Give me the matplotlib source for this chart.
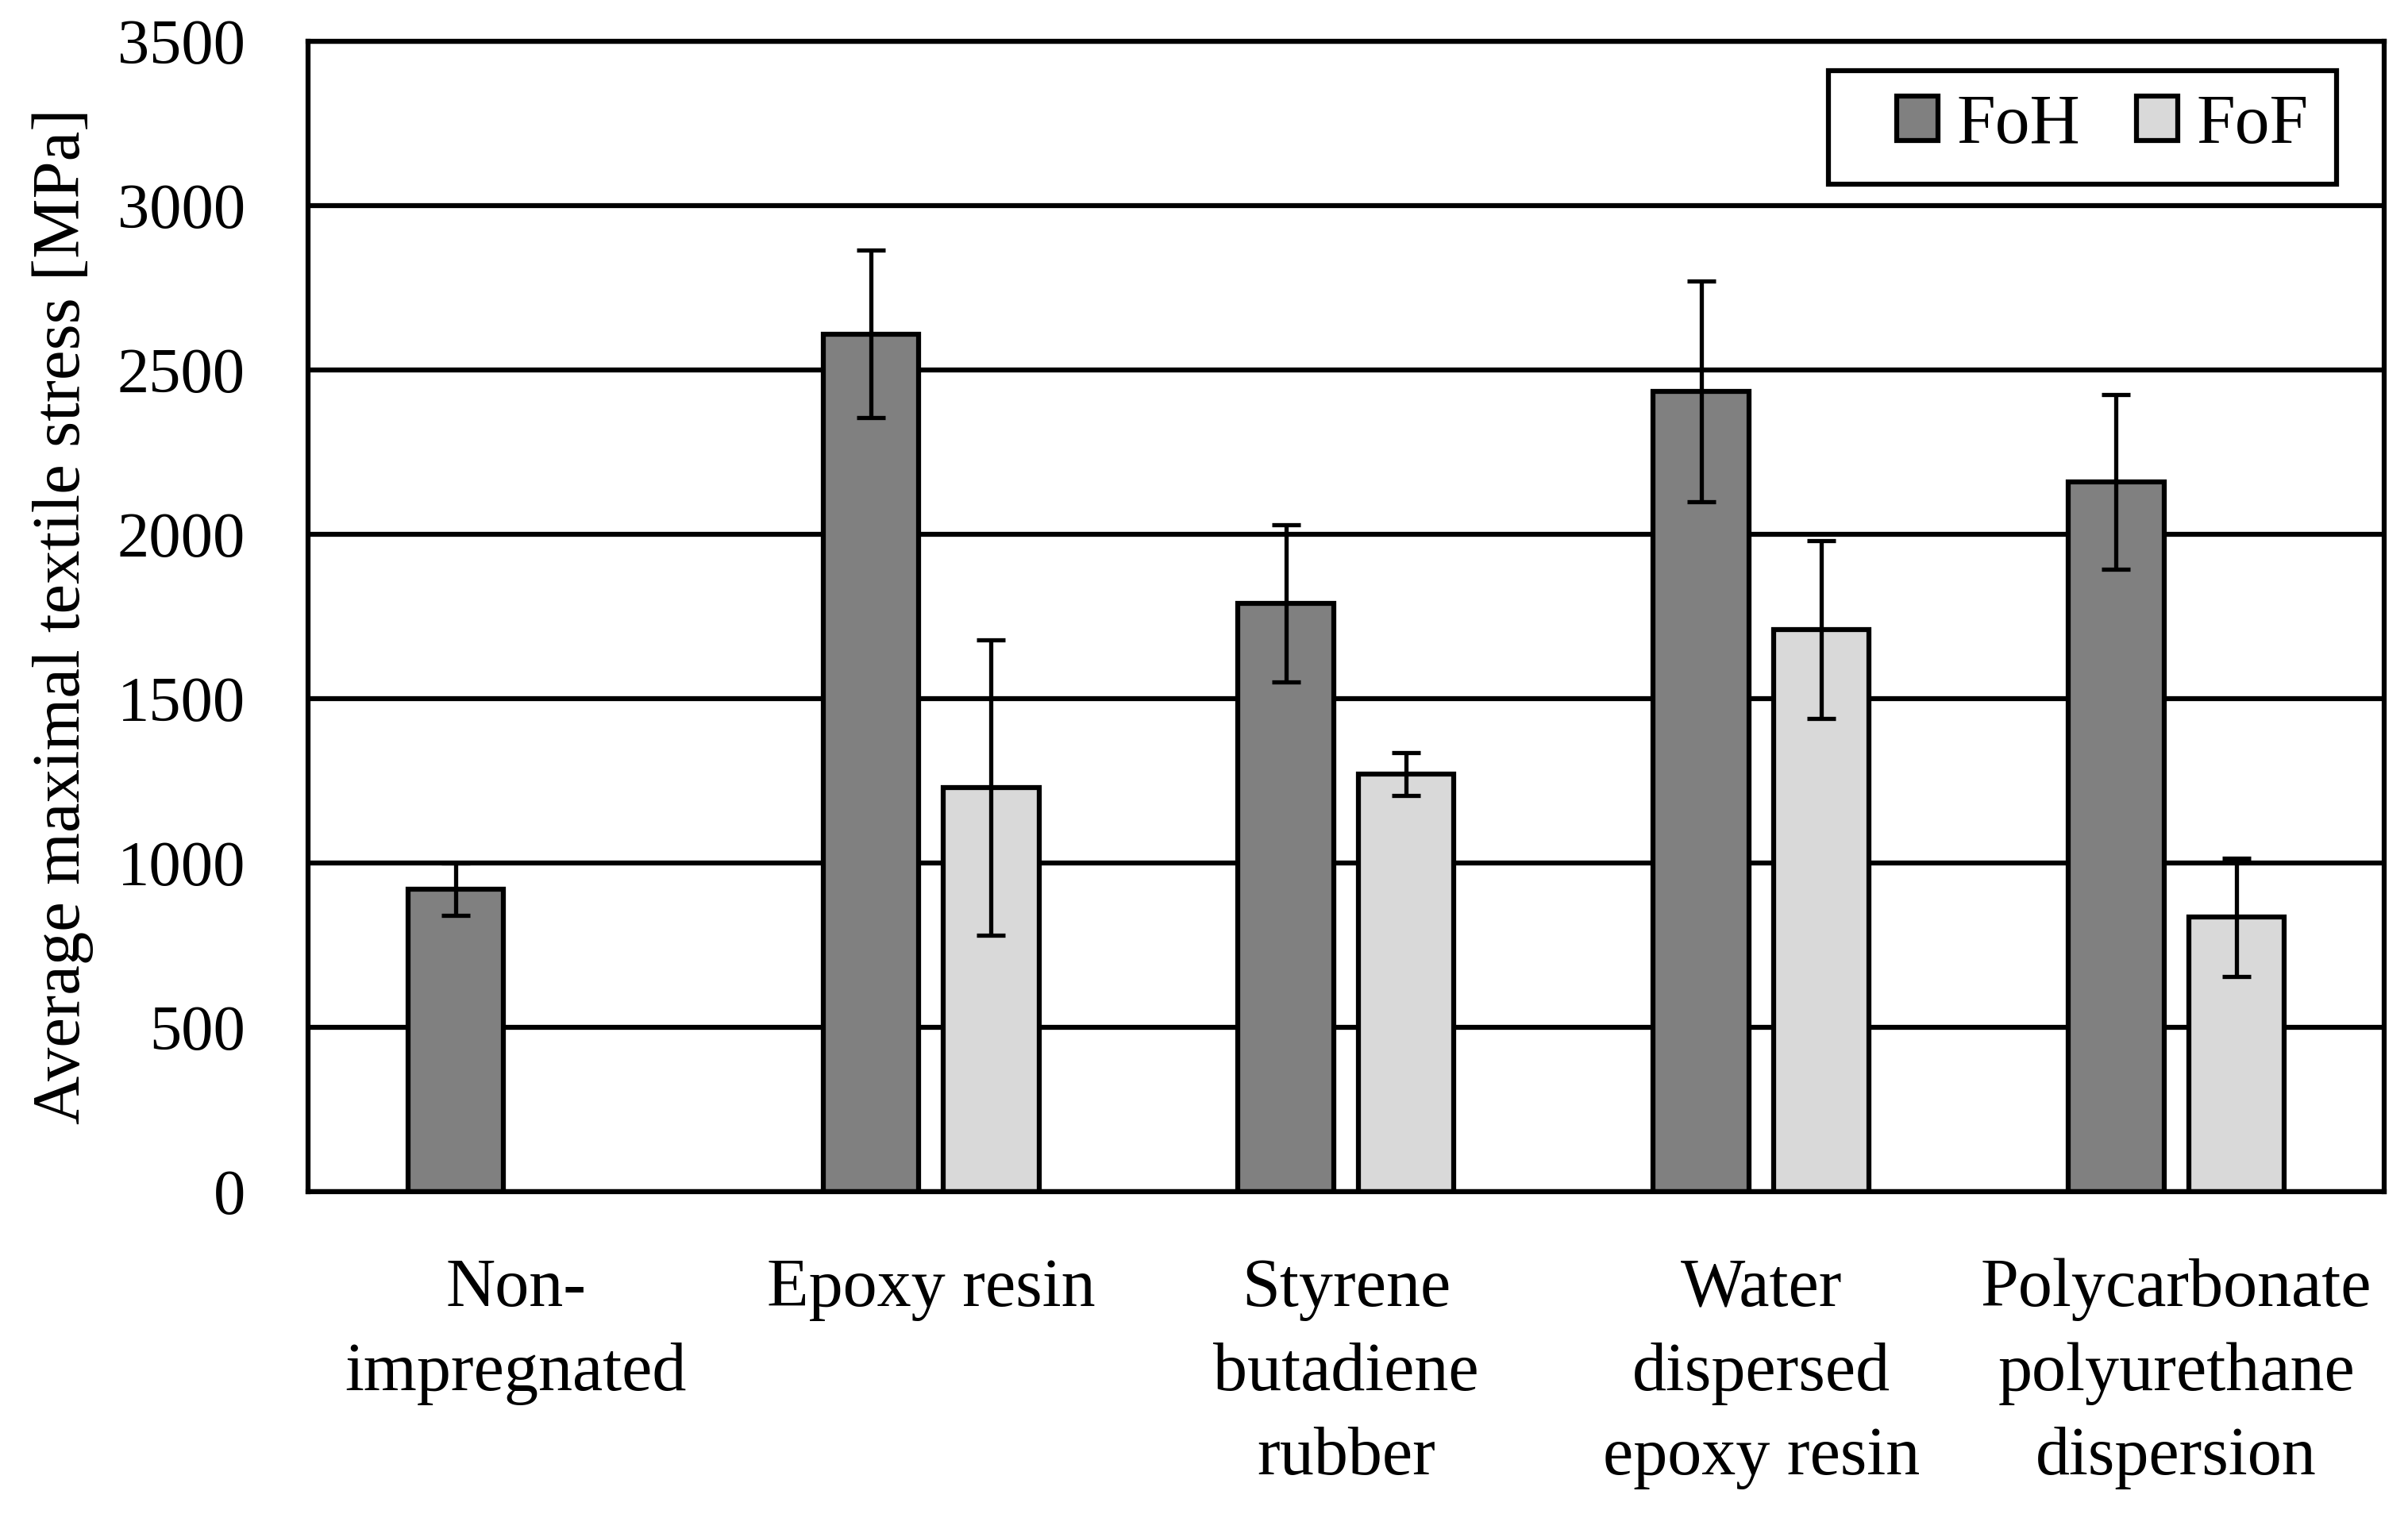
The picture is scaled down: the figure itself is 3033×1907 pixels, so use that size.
import matplotlib
matplotlib.use("Agg")
import matplotlib.pyplot as plt
from matplotlib.patches import Rectangle
import numpy as np

categories = [
    "Non-\nimpregnated",
    "Epoxy resin",
    "Styrene\nbutadiene\nrubber",
    "Water\ndispersed\nepoxy resin",
    "Polycarbonate\npolyurethane\ndispersion",
]
foh_mean = [920, 2610, 1790, 2435, 2160]
foh_err = [80, 255, 240, 335, 265]
fof_mean = [np.nan, 1230, 1270, 1710, 835]
fof_err = [np.nan, 450, 65, 270, 180]
y_ticks = [0, 500, 1000, 1500, 2000, 2500, 3000, 3500]

plt.rcParams["font.family"] = ["Liberation Serif", "DejaVu Serif"]
FS = 58
FS_BIG = 63

fig = plt.figure(figsize=(30.33, 19.07), dpi=100)
ax = fig.add_axes([0.128, 0.2129, 0.862, 0.7598])

x = np.arange(len(categories))
w = 0.23
off = 0.145
lw = 4.5

ax.bar(x - off, foh_mean, w, color="#808080", edgecolor="black", linewidth=lw,
       label="FoH", zorder=2)
ax.bar(x + off, fof_mean, w, color="#d9d9d9", edgecolor="black", linewidth=lw,
       label="FoF", zorder=2)
ax.errorbar(x - off, foh_mean, yerr=foh_err, fmt="none", ecolor="black",
            elinewidth=3.8, capsize=13, capthick=3.8, zorder=3)
ax.errorbar(x + off, fof_mean, yerr=fof_err, fmt="none", ecolor="black",
            elinewidth=3.8, capsize=13, capthick=3.8, zorder=3)

ax.set_xlim(-0.5, len(categories) - 0.5)
ax.set_ylim(0, 3500)
ax.set_yticks(y_ticks)
ax.set_xticks(x)
ax.set_xticklabels(categories, fontsize=62, linespacing=1.44)
ax.tick_params(axis="both", length=0)
ax.tick_params(axis="y", labelsize=FS, pad=57)
ax.tick_params(axis="x", pad=60)

ax.yaxis.grid(True, color="black", linewidth=lw)
ax.set_axisbelow(True)
for s in ax.spines.values():
    s.set_linewidth(lw)
    s.set_color("black")

ax.set_ylabel("Average maximal textile stress [MPa]", fontsize=61, va="center")
ax.yaxis.set_label_coords(-0.118, 0.5)

# legend frame drawn separately (Excel style, uneven padding)
ax.add_patch(Rectangle((0.7323, 0.8758), 0.2448, 0.0987, transform=ax.transAxes,
                       facecolor="white", edgecolor="black", linewidth=lw,
                       zorder=4, clip_on=False))
leg = ax.legend(loc="center left", bbox_to_anchor=(0.7652, 0.9268), borderaxespad=0,
                borderpad=0, ncol=2, fontsize=FS_BIG, frameon=False,
                handlelength=0.6, handleheight=0.6, handletextpad=0.27,
                columnspacing=0.8)
leg.set_zorder(5)

fig.savefig("out.png", dpi=100)
